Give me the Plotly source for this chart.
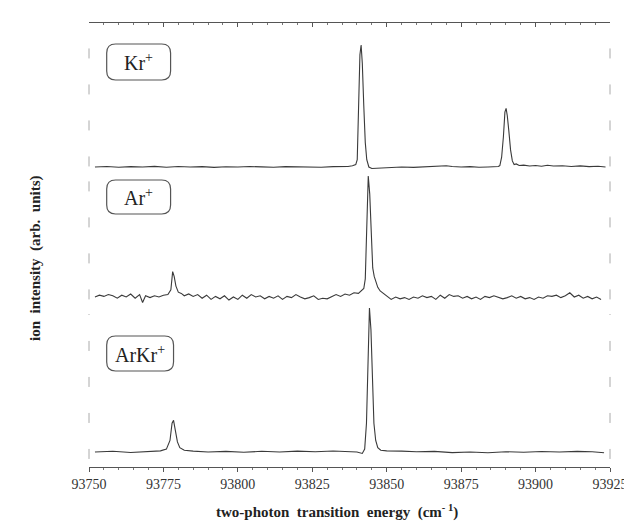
import plotly.graph_objects as go
from plotly.subplots import make_subplots

# ---------------- data ----------------
kr_x = [93752, 93756, 93760, 93764, 93768, 93772, 93776, 93780, 93784, 93788, 93792, 93796,
        93800, 93804, 93808, 93812, 93816, 93820, 93824, 93828, 93832, 93835, 93837, 93838.5,
        93839.6, 93840.1, 93840.6, 93841.0, 93841.4, 93841.8, 93842.3, 93842.8, 93843.3,
        93844.0, 93845.0, 93846.5, 93848, 93851, 93855, 93859, 93863, 93866, 93868, 93870,
        93872, 93875, 93878, 93881, 93884, 93886, 93887.5, 93888.0, 93888.6, 93889.2, 93889.7,
        93890.1, 93890.5, 93891.0, 93891.6, 93892.2, 93892.8, 93893.5, 93894.5, 93896, 93898,
        93900, 93902, 93904, 93906, 93909, 93912, 93915, 93918, 93921, 93923.5]
kr_y = [0.0, 0.004, -0.002, 0.003, 0.0, 0.005, -0.002, 0.004, 0.0, 0.003, -0.003, 0.002,
        0.0, 0.004, 0.001, -0.002, 0.003, 0.0, 0.002, -0.002, 0.003, 0.0, 0.004, 0.01,
        0.02, 0.06, 0.5, 0.92, 1.0, 0.85, 0.5, 0.2, 0.06,
        0.0, -0.012, -0.01, -0.008, -0.004, 0.0, -0.003, 0.002, 0.006, 0.012, 0.01,
        0.004, 0.0, 0.003, -0.002, 0.0, 0.002, 0.004, 0.012, 0.08, 0.25, 0.45,
        0.48, 0.42, 0.3, 0.14, 0.05, 0.02, 0.025, 0.012, 0.015, 0.008,
        0.012, 0.006, 0.014, 0.008, 0.01, 0.004, 0.009, 0.003, 0.006, 0.0]

ar_x = [93752, 93753.5, 93755, 93756.5, 93758, 93759.5, 93761, 93762.5, 93764, 93765.5, 93767,
        93768, 93769, 93770.5, 93772, 93773.5, 93775, 93776.5, 93777.5, 93778.1, 93778.6,
        93779.2, 93780, 93781, 93782, 93783.5, 93785, 93786.5, 93788, 93789.5, 93791, 93792.5,
        93794, 93795.5, 93797, 93798.5, 93800, 93801.5, 93803, 93804.5, 93806, 93807.5, 93809,
        93810.5, 93812, 93813.5, 93815, 93816.5, 93818, 93819.5, 93821, 93822.5, 93824, 93825.5,
        93827, 93828.5, 93830, 93831.5, 93833, 93834.5, 93836, 93837.5, 93839, 93840.5, 93841.5,
        93842.3, 93842.8, 93843.3, 93843.8, 93844.3, 93844.8, 93845.3, 93845.8, 93846.4, 93847,
        93847.8, 93848.8, 93850, 93851.5, 93853, 93854.5, 93856, 93857.5, 93859, 93860.5, 93862,
        93863.5, 93865, 93866.5, 93868, 93869.5, 93871, 93872.5, 93874, 93875.5, 93877, 93878.5,
        93880, 93881.5, 93883, 93884.5, 93886, 93887.5, 93889, 93890.5, 93892, 93893.5, 93895,
        93896.5, 93898, 93899.5, 93901, 93902.5, 93904, 93905.5, 93907, 93908.5, 93910, 93911.5,
        93913, 93914.5, 93916, 93917.5, 93919, 93920.5, 93922]
ar_y = [0.0, 0.015, 0.005, 0.02, 0.01, -0.01, 0.015, 0.0, 0.025, -0.01, 0.02,
        -0.045, 0.01, -0.005, 0.01, 0.0, 0.015, 0.02, 0.06, 0.21, 0.17,
        0.09, 0.04, 0.03, 0.01, 0.025, 0.005, 0.02, -0.01, 0.015, -0.02, 0.005,
        -0.015, 0.01, -0.025, 0.0, -0.02, 0.015, -0.01, 0.02, 0.0, 0.01, -0.015,
        0.005, -0.01, 0.01, -0.02, 0.005, -0.005, 0.02, 0.0, -0.015, -0.005, 0.01,
        -0.02, -0.01, -0.015, 0.0, 0.02, 0.005, 0.025, 0.015, 0.035, 0.03, 0.05,
        0.07, 0.15, 0.5, 1.0, 0.85, 0.45, 0.24, 0.17, 0.13, 0.08,
        0.05, 0.03, 0.005, -0.02, 0.0, -0.015, -0.005, -0.02, 0.0, -0.01, 0.01,
        -0.005, 0.005, -0.02, 0.015, -0.01, 0.02, 0.005, 0.01, -0.01, 0.005, -0.015,
        0.0, -0.02, 0.005, -0.005, 0.01, 0.0, -0.015, -0.005, 0.01, -0.01, 0.005,
        -0.015, -0.005, -0.02, 0.0, -0.01, 0.01, 0.005, 0.015, -0.005, 0.01, 0.035,
        0.0, 0.015, -0.01, 0.005, -0.015, 0.0, -0.02]

arkr_x = [93752, 93758, 93764, 93770, 93774, 93776, 93777.2, 93777.9, 93778.4, 93779, 93779.7,
          93780.5, 93782, 93785, 93790, 93796, 93802, 93808, 93814, 93820, 93826, 93832, 93837,
          93840, 93841.8, 93842.6, 93843.2, 93843.7, 93844.2, 93844.7, 93845.2, 93845.7, 93846.3,
          93847, 93848, 93850, 93855, 93860, 93866, 93872, 93878, 93884, 93890, 93896, 93902,
          93908, 93914, 93919, 93923]
arkr_y = [0.0, 0.005, -0.003, 0.004, 0.008, 0.02, 0.08, 0.2, 0.22, 0.15, 0.07,
          0.03, 0.012, 0.006, 0.0, 0.004, -0.002, 0.005, 0.0, 0.006, 0.002, 0.007, 0.004,
          0.0, -0.01, 0.02, 0.2, 0.6, 1.0, 0.85, 0.45, 0.2, 0.08,
          0.03, 0.012, 0.008, 0.006, 0.002, 0.004, -0.004, 0.0, -0.005, 0.002, -0.002, 0.003,
          0.0, 0.004, 0.002, -0.005]

labels = ["Kr<sup>+</sup>", "Ar<sup>+</sup>", "ArKr<sup>+</sup>"]
x_ticks = [93750, 93775, 93800, 93825, 93850, 93875, 93900, 93925]

# ---------------- layout geometry (pixels) ----------------
W, H = 632, 523
L, R, T, B = 81, 611, 15, 459  # plot area edges in pixels


def px2fx(p):
    return (p - L) / (R - L)


def px2fy(p):
    return (B - p) / (B - T)


fig = make_subplots(rows=3, cols=1, shared_xaxes=True, vertical_spacing=0)

line_style = dict(color="#3a3a3a", width=1.1)
fig.add_trace(go.Scatter(x=kr_x, y=kr_y, mode="lines", line=line_style, name="Kr+"), row=1, col=1)
fig.add_trace(go.Scatter(x=ar_x, y=ar_y, mode="lines", line=line_style, name="Ar+"), row=2, col=1)
fig.add_trace(go.Scatter(x=arkr_x, y=arkr_y, mode="lines", line=line_style, name="ArKr+"), row=3, col=1)

# panels: (top px, bottom px, baseline px, peak px)
panels = [(15, 166, 159, 37), (166, 298, 289, 168), (298, 459, 444, 300)]
yaxes = ["yaxis", "yaxis2", "yaxis3"]
for name, (pt, pb, base, peak) in zip(yaxes, panels):
    unit = base - peak
    fig.layout[name].update(
        domain=[px2fy(pb), px2fy(pt)],
        range=[-(pb - base) / unit, (base - pt) / unit],
        visible=False, fixedrange=True,
    )

xrange = [93750, 93925]
axis_font = dict(family="Liberation Serif", size=14, color="#333")
fig.update_xaxes(range=xrange, showgrid=False, zeroline=False)
# top axis line (row 1)
fig.layout.xaxis.update(side="top", showline=True, linecolor="#555", linewidth=1.2,
                        ticks="inside", ticklen=4, tickcolor="#555", tickvals=x_ticks,
                        showticklabels=False,
                        minor=dict(ticks="inside", ticklen=2, dtick=5, tickcolor="#777"))
fig.layout.xaxis2.update(visible=False)
fig.layout.xaxis3.update(showline=True, linecolor="#555", linewidth=1.2,
                         ticks="outside", ticklen=4, tickcolor="#555", tickvals=x_ticks,
                         ticktext=[str(v) for v in x_ticks], tickfont=axis_font,
                         showticklabels=True,
                         minor=dict(ticks="outside", ticklen=2, dtick=5, tickcolor="#777"))

shapes = []
# faint dashed frame fragments at left and right of each panel
for i, (pt, pb, base, peak) in enumerate(panels):
    yref = ["y domain", "y2 domain", "y3 domain"][i]
    for xpos in (0, 1):
        shapes.append(dict(type="line", xref="paper", yref=yref, x0=xpos, x1=xpos,
                           y0=0.05, y1=0.95,
                           line=dict(color="#aaa", width=1, dash="10px,26px")))

# rounded label boxes
boxes = [(99, 36, 164, 72), (99, 172, 164, 206), (99, 328, 167, 363)]


def rounded(x0, y0, x1, y1, r=9):
    fx0, fx1 = px2fx(x0), px2fx(x1)
    fy0, fy1 = px2fy(y0), px2fy(y1)
    rx, ry = r / (R - L), r / (B - T)
    return (f"M {fx0+rx} {fy0} L {fx1-rx} {fy0} Q {fx1} {fy0} {fx1} {fy0-ry} "
            f"L {fx1} {fy1+ry} Q {fx1} {fy1} {fx1-rx} {fy1} "
            f"L {fx0+rx} {fy1} Q {fx0} {fy1} {fx0} {fy1+ry} "
            f"L {fx0} {fy0-ry} Q {fx0} {fy0} {fx0+rx} {fy0} Z")


annotations = []
for (x0, y0, x1, y1), lab in zip(boxes, labels):
    shapes.append(dict(type="path", xref="paper", yref="paper", path=rounded(x0, y0, x1, y1),
                       line=dict(color="#555", width=1.2)))
    annotations.append(dict(xref="paper", yref="paper", x=px2fx((x0 + x1) / 2),
                            y=px2fy((y0 + y1) / 2), text=lab, showarrow=False,
                            font=dict(family="Liberation Serif", size=20, color="#222"),
                            xanchor="center", yanchor="middle"))

annotations.append(dict(xref="paper", yref="paper", x=px2fx(333), y=px2fy(503),
                        text="<b>two-photon  transition  energy  (cm<sup>- 1</sup>)</b>",
                        showarrow=False, xanchor="center", yanchor="middle",
                        font=dict(family="Liberation Serif", size=15, color="#222")))
annotations.append(dict(xref="paper", yref="paper", x=px2fx(26), y=px2fy(250),
                        text="<b>ion  intensity  (arb.  units)</b>", textangle=-90,
                        showarrow=False, xanchor="center", yanchor="middle",
                        font=dict(family="Liberation Serif", size=15, color="#222")))

fig.update_layout(
    width=W, height=H,
    margin=dict(l=L, r=W - R, t=T, b=H - B),
    paper_bgcolor="white", plot_bgcolor="white",
    showlegend=False, shapes=shapes, annotations=annotations,
)

fig.write_html("out.html")
